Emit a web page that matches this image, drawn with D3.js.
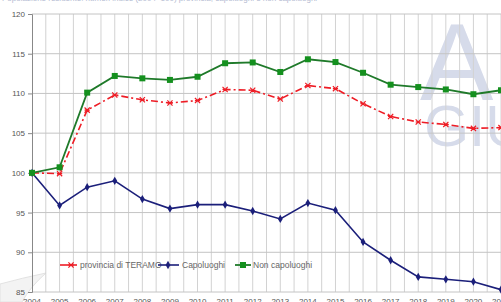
<!DOCTYPE html>
<html>
<head>
<meta charset="utf-8">
<script src="https://cdn.jsdelivr.net/npm/d3@7"></script>
<style>
body { margin: 0; background: #fff; }
svg { display: block; font-family: "Liberation Sans", Arial, sans-serif; }
</style>
</head>
<body>
<svg id="chart" width="501" height="302"></svg>
<script>
var years = [2004, 2005, 2006, 2007, 2008, 2009, 2010, 2011, 2012, 2013, 2014, 2015, 2016, 2017, 2018, 2019, 2020, 2021]
var teramo = [100, 99.9, 107.9, 109.8, 109.2, 108.8, 109.1, 110.5, 110.4, 109.3, 111.0, 110.6, 108.7, 107.1, 106.4, 106.1, 105.6, 105.7]
var capoluoghi = [100, 95.9, 98.2, 99.0, 96.7, 95.5, 96.0, 96.0, 95.2, 94.2, 96.2, 95.3, 91.3, 89.0, 86.9, 86.6, 86.3, 85.3]
var nonCapoluoghi = [100, 100.7, 110.1, 112.2, 111.9, 111.7, 112.1, 113.8, 113.9, 112.7, 114.3, 113.95, 112.6, 111.1, 110.8, 110.5, 109.9, 110.4]
var yTicks = [85, 90, 95, 100, 105, 110, 115, 120]
var seriesNames = ['provincia di TERAMO', 'Capoluoghi', 'Non capoluoghi']

var svg = d3.select('#chart')
var margin = { left: 32, top: 14, bottom: 292, right: 501 }

var x = d3.scaleLinear().domain([2004, 2021]).range([margin.left, margin.right])
var y = d3.scaleLinear().domain([85, 120]).range([margin.bottom, margin.top])

// faint cut-off caption at the very top
svg.append('text').attr('x', 2).attr('y', 1)
    .attr('font-size', 8).attr('fill', '#b4bbd2')
    .text('Popolazione residente: numeri indice (2004=100) provincia, capoluoghi e non capoluoghi')

// watermark
svg.append('text').attr('x', 420).attr('y', 100)
    .attr('font-size', 110).attr('fill', '#d6dbea')
    .text('A')
svg.append('text').attr('x', 424).attr('y', 146)
    .attr('font-size', 58).attr('fill', '#d6dbea')
    .text('GIU')

// page curl in the corner
svg.append('path').attr('d', 'M0,302 L0,284 Q22,278 46,273 Q30,287 22,302 Z')
    .attr('fill', '#f3f3f3').attr('stroke', '#e2e2e2')

// vertical grid (every half year)
var vgrid = d3.range(2004.5, 2021.6, 0.5)
svg.append('g').selectAll('line').data(vgrid).enter().append('line')
    .attr('x1', d => x(d)).attr('x2', d => x(d))
    .attr('y1', margin.top).attr('y2', margin.bottom)
    .attr('stroke', '#d2d2d2').attr('stroke-width', 1)

// horizontal grid
svg.append('g').selectAll('line').data(yTicks).enter().append('line')
    .attr('x1', margin.left).attr('x2', margin.right)
    .attr('y1', d => y(d)).attr('y2', d => y(d))
    .attr('stroke', '#c4c4c4').attr('stroke-width', 1)

// y axis
var yAxis = svg.append('g')
    .attr('transform', 'translate(' + margin.left + ',0)')
    .call(d3.axisLeft(y).tickValues(yTicks).tickSize(4).tickPadding(3))
yAxis.select('.domain').attr('stroke', '#888')
yAxis.selectAll('.tick line').attr('stroke', '#888')
yAxis.selectAll('text').attr('font-size', 8).attr('fill', '#555').attr('font-family', 'Liberation Sans')

// x labels (cut by the bottom edge)
svg.append('g').selectAll('text').data(years).enter().append('text')
    .attr('x', d => x(d)).attr('y', 304)
    .attr('text-anchor', 'middle').attr('font-size', 8).attr('fill', '#555')
    .text(d => d)

var line = d3.line().x((d, i) => x(years[i])).y(d => y(d))

function drawSeries(vals, color, dash, width) {
    svg.append('path').datum(vals)
        .attr('d', line).attr('fill', 'none')
        .attr('stroke', color).attr('stroke-width', width)
        .attr('stroke-dasharray', dash)
}

drawSeries(teramo, '#ee1c25', '7,3,2,3', 1.6)
drawSeries(capoluoghi, '#1b1f7a', null, 1.6)
drawSeries(nonCapoluoghi, '#1f7a2a', null, 1.8)

function starMarker(g, cx, cy, r, color) {
    g.append('path')
        .attr('d', 'M' + (cx - r) + ',' + (cy - r) + 'L' + (cx + r) + ',' + (cy + r) +
            'M' + (cx - r) + ',' + (cy + r) + 'L' + (cx + r) + ',' + (cy - r) +
            'M' + (cx - r) + ',' + cy + 'L' + (cx + r) + ',' + cy)
        .attr('stroke', color).attr('stroke-width', 1.2).attr('fill', 'none')
}

var mk = svg.append('g')
teramo.forEach(function (v, i) { starMarker(mk, x(years[i]), y(v), 2.6, '#ee1c25') })

svg.append('g').selectAll('path').data(capoluoghi).enter().append('path')
    .attr('d', d3.symbol().type(d3.symbolDiamond).size(20))
    .attr('transform', (d, i) => 'translate(' + x(years[i]) + ',' + y(d) + ')')
    .attr('fill', '#1b1f7a')

svg.append('g').selectAll('rect').data(nonCapoluoghi).enter().append('rect')
    .attr('x', (d, i) => x(years[i]) - 3).attr('y', d => y(d) - 3)
    .attr('width', 6).attr('height', 6)
    .attr('fill', '#14901e')

// legend
var lg = svg.append('g').attr('font-size', 8.5).attr('fill', '#666')
var ly = 265
lg.append('line').attr('x1', 60).attr('x2', 77).attr('y1', ly).attr('y2', ly)
    .attr('stroke', '#ee1c25').attr('stroke-width', 1.6)
starMarker(lg, 71, ly, 2.6, '#ee1c25')
lg.append('text').attr('x', 80).attr('y', ly + 3).text(seriesNames[0])

lg.append('line').attr('x1', 158).attr('x2', 179).attr('y1', ly).attr('y2', ly)
    .attr('stroke', '#1b1f7a').attr('stroke-width', 1.6)
lg.append('path').attr('d', d3.symbol().type(d3.symbolDiamond).size(20))
    .attr('transform', 'translate(168,' + ly + ')').attr('fill', '#1b1f7a')
lg.append('text').attr('x', 182).attr('y', ly + 3).text(seriesNames[1])

lg.append('line').attr('x1', 235).attr('x2', 251).attr('y1', ly).attr('y2', ly)
    .attr('stroke', '#1f7a2a').attr('stroke-width', 1.8)
lg.append('rect').attr('x', 240).attr('y', ly - 3).attr('width', 6).attr('height', 6)
    .attr('fill', '#14901e')
lg.append('text').attr('x', 253).attr('y', ly + 3).text(seriesNames[2])
</script>
</body>
</html>
